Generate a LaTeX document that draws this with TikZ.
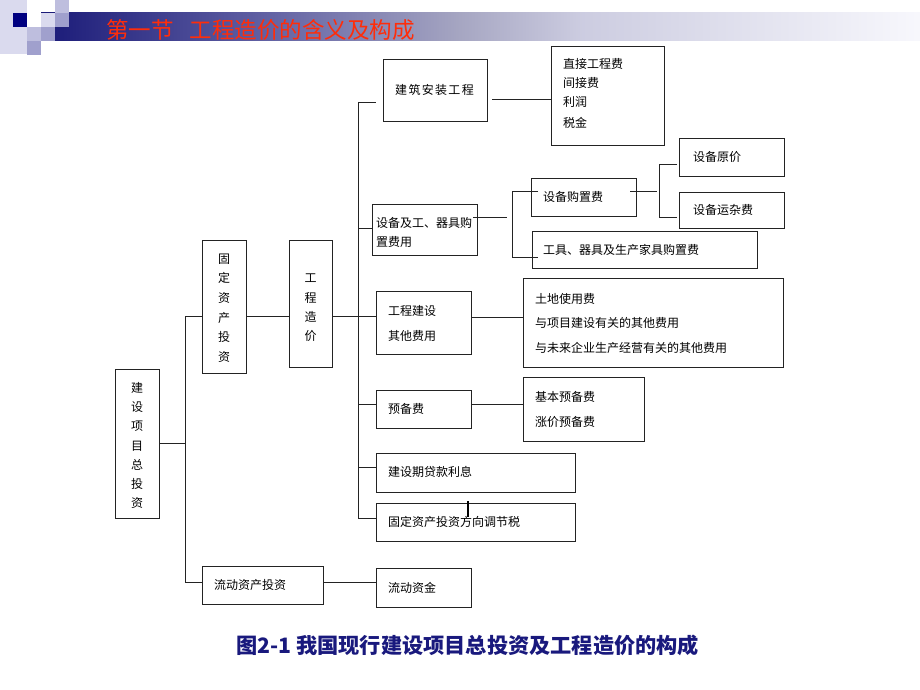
\documentclass[tikz,border=0pt]{standalone}
\usepackage{fontspec}
\setmainfont{Noto Sans CJK SC}
\definecolor{titlered}{RGB}{255,45,10}
\definecolor{capblue}{RGB}{25,25,125}
\definecolor{sqnavy}{RGB}{0,0,128}
\definecolor{sqlight}{RGB}{218,218,238}
\definecolor{sqmid}{RGB}{190,190,222}
\definecolor{sqdark}{RGB}{160,160,205}
\definecolor{linec}{RGB}{35,35,35}
\pgfdeclarehorizontalshading{bandshade}{100bp}{rgb(0bp)=(0.10,0.10,0.47); rgb(25bp)=(0.10,0.10,0.47); rgb(36.9bp)=(0.36,0.36,0.63); rgb(48.8bp)=(0.65,0.65,0.76); rgb(55.7bp)=(0.80,0.80,0.88); rgb(75bp)=(0.97,0.97,0.99); rgb(100bp)=(0.97,0.97,0.99)}
\tikzset{
  bx/.style={draw=linec, line width=0.9pt, inner sep=0pt, fill=white},
  ln/.style={draw=linec, line width=0.9pt},
  tx/.style={font=\fontsize{12}{14}\selectfont, inner sep=0pt, anchor=west, text=black},
  vt/.style={font=\fontsize{12}{#1}\selectfont, inner sep=0pt, align=center, text=black},
}
\newcommand\mybox[5]{\node[bx, minimum width={#4-#2}, minimum height={#5-#3}] (#1) at ({(#2+#4)/2},{(#3+#5)/2}) {};}
\begin{document}
\begin{tikzpicture}[x=1pt,y=-1pt]
\useasboundingbox[fill=white] (0,0) rectangle (920,690);
% header decoration
\fill[sqlight] (0,0) rectangle (27,54);
\shade[shading=bandshade] (41,13) rectangle (920,41);
\fill[sqnavy] (13,13) rectangle (27,27);
\fill[sqmid] (27,27) rectangle (41,41);
\fill[sqlight] (41,13) rectangle (55,27);
\fill[sqmid] (55,0) rectangle (69,13);
\fill[sqdark] (55,13) rectangle (69,27);
\fill[sqdark] (41,27) rectangle (55,41);
\fill[sqdark] (27,41) rectangle (41,55);
\begin{scope}
\clip (0,0) rectangle (920,41);
\node[anchor=west, inner sep=0pt, text=titlered, font=\fontsize{22.5}{25}\selectfont] (title) at (106,30) {第一节\hspace{0.72em}工程造价的含义及构成};
\end{scope}
% boxes
\mybox{A}{115}{369}{159}{518}
\mybox{B}{202}{240}{246}{373}
\mybox{C}{289}{240}{332}{367}
\mybox{D}{202}{566}{323}{604}
\mybox{E}{383}{59}{487}{121}
\mybox{F}{551}{46}{664}{145}
\mybox{G}{372}{204}{477}{255}
\mybox{H}{531}{178}{636}{216}
\mybox{I}{532}{231}{757}{268}
\mybox{J}{679}{138}{784}{176}
\mybox{K}{679}{192}{784}{228}
\mybox{L}{376}{291}{471}{354}
\mybox{M}{523}{278}{783}{367}
\mybox{N}{376}{390}{471}{428}
\mybox{O}{523}{377}{644}{441}
\mybox{P}{376}{453}{575}{492}
\mybox{Q}{376}{503}{575}{541}
\mybox{R}{376}{568}{471}{607}
% texts
\node[vt=19.2] (tA) at (137,445.5) {建\\设\\项\\目\\总\\投\\资};
\node[vt=19.6] (tB) at (224,308) {固\\定\\资\\产\\投\\资};
\node[vt=19.3] (tC) at (310.5,308) {工\\程\\造\\价};
\node[tx] (tD) at (214,585) {流动资产投资};
\node[tx, font=\fontsize{12}{14}\selectfont\addfontfeature{LetterSpace=11}] (tE) at (395,90) {建筑安装工程};
\node[tx] (tF1) at (563,64) {直接工程费};
\node[tx] (tF2) at (563,83) {间接费};
\node[tx] (tF3) at (563,102) {利润};
\node[tx] (tF4) at (563,123) {税金};
\node[tx] (tG1) at (376,223) {设备及工、器具购};
\node[tx] (tG2) at (376,242) {置费用};
\node[tx] (tH) at (543,197) {设备购置费};
\node[tx] (tI) at (543,250) {工具、器具及生产家具购置费};
\node[tx] (tJ) at (693,157) {设备原价};
\node[tx] (tK) at (693,210) {设备运杂费};
\node[tx] (tL1) at (388,311) {工程建设};
\node[tx] (tL2) at (388,336) {其他费用};
\node[tx] (tM1) at (535,299) {土地使用费};
\node[tx] (tM2) at (535,323) {与项目建设有关的其他费用};
\node[tx] (tM3) at (535,348) {与未来企业生产经营有关的其他费用};
\node[tx] (tN) at (388,409) {预备费};
\node[tx] (tO1) at (535,397) {基本预备费};
\node[tx] (tO2) at (535,422) {涨价预备费};
\node[tx] (tP) at (388,472) {建设期贷款利息};
\node[tx] (tQ) at (388,522) {固定资产投资方向调节税};
\node[tx] (tR) at (388,588) {流动资金};
% caption
\node[anchor=west, inner sep=0pt, text=capblue, font=\bfseries\fontsize{21.2}{24}\selectfont] (cap) at (236,645) {图2-1 我国现行建设项目总投资及工程造价的构成};
% trunk coordinates
\coordinate (t1a) at (185,316);
\coordinate (t1m) at (185,443);
\coordinate (t1b) at (185,582);
\coordinate (t2a) at (358,102);
\coordinate (t2b) at (358,518);
\coordinate (eEnd) at (376,102);
% connectors
\draw[ln] (A.east |- t1m) -- (t1m);
\draw[ln] (t1a) -- (t1b);
\draw[ln] (t1a) -- (B.west |- t1a);
\draw[ln] (t1b) -- (D.west |- t1b);
\draw[ln] (B.east |- t1a) -- (C.west |- t1a);
\draw[ln] (C.east |- t1a) -- (L.west |- t1a);
\draw[ln] (t2a) -- (t2b);
\draw[ln] (t2a) -- (eEnd);
\draw[ln] (358,228) -- (G.west |- 0,228);
\draw[ln] (358,404) -- (N.west |- 0,404);
\draw[ln] (358,467) -- (P.west |- 0,467);
\draw[ln] (t2b) -- (Q.west |- t2b);
\draw[ln] (D.east |- t1b) -- (R.west |- t1b);
\draw[ln] (492,99) -- (F.west |- 0,99);
\coordinate (gA) at (473,217);
\coordinate (gB) at (507,217);
\draw[ln] (gA) -- (gB);
\draw[ln] (538,191) -- (512,191) -- (512,257) -- (538,257);
\coordinate (hA) at (630,191);
\coordinate (hB) at (657,191);
\draw[ln] (hA) -- (hB);
\draw[ln] (677,164) -- (659,164) -- (659,217) -- (677,217);
\draw[ln] (L.east |- 0,317) -- (M.west |- 0,317);
\draw[ln] (N.east |- 0,404) -- (O.west |- 0,404);
\draw[line width=1.5pt, black] (468,501) -- (468,517);
\end{tikzpicture}
\end{document}
